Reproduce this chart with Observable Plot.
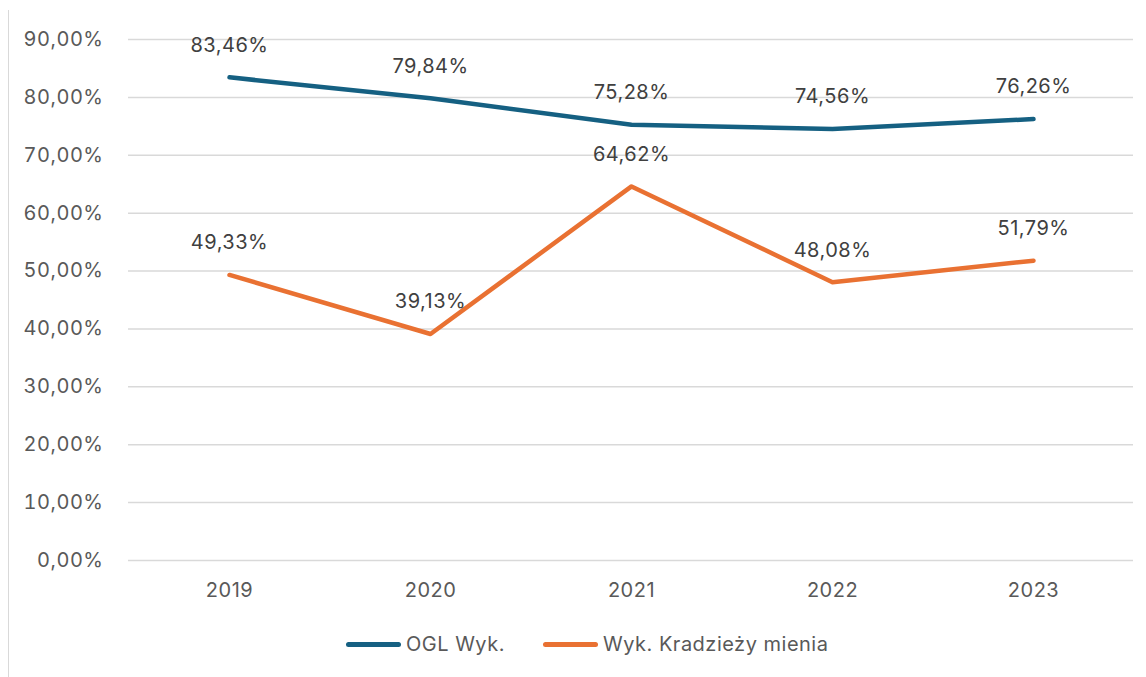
<!DOCTYPE html>
<html>
<head>
<meta charset="utf-8">
<script src="https://cdn.jsdelivr.net/npm/d3@7"></script>
<script src="https://cdn.jsdelivr.net/npm/@observablehq/plot@0.6"></script>
<style>
  html, body { margin: 0; padding: 0; background: #fff; }
  body { width: 1146px; height: 677px; position: relative; overflow: hidden; font-family: Inter, "Open Sans", sans-serif; }
  #frame { position: absolute; left: 8px; top: 10px; width: 1px; height: 667px; background: #d9d9d9; }
  #chart { position: absolute; left: 0; top: 0; }
  #chart text { letter-spacing: 0.5px; }
  #legend { position: absolute; top: 630px; left: 0; width: 1146px; height: 28px; }
  .item { position: absolute; top: 0; display: flex; align-items: center; height: 28px; font-size: 20px; color: #595959; letter-spacing: 0.5px; }
  .sw { width: 55px; height: 5px; border-radius: 3px; margin-right: 5px; }
</style>
</head>
<body>
<div id="frame"></div>
<div id="chart"></div>
<div id="legend"></div>
<script>
const years = ["2019", "2020", "2021", "2022", "2023"];
const seriesNames = ["OGL Wyk.", "Wyk. Kradzieży mienia"];
const seriesColors = ["#156082", "#E97132"];
const oglValues = [83.46, 79.84, 75.28, 74.56, 76.26];
const kradziezValues = [49.33, 39.13, 64.62, 48.08, 51.79];
const yTicks = [0, 10, 20, 30, 40, 50, 60, 70, 80, 90];

const fmt = v => v.toFixed(2).replace(".", ",") + "%";

const data = [];
years.forEach((y, i) => {
  data.push({year: y, value: oglValues[i], series: seriesNames[0]});
  data.push({year: y, value: kradziezValues[i], series: seriesNames[1]});
});

const chart = Plot.plot({
  width: 1146,
  height: 615,
  marginLeft: 128,
  marginRight: 13,
  marginTop: 39,
  marginBottom: 55,
  style: {fontFamily: 'Inter, "Open Sans", sans-serif', fontSize: "20px", color: "#595959", background: "transparent"},
  x: {type: "point", domain: years, padding: 0.5, label: null, tickSize: 0, tickPadding: 22},
  y: {domain: [0, 90], ticks: yTicks, tickFormat: fmt, label: null, tickSize: 0, tickPadding: 25},
  color: {domain: seriesNames, range: seriesColors},
  marks: [
    Plot.ruleY(yTicks, {stroke: "#d9d9d9", strokeWidth: 1.5, strokeOpacity: 1}),
    Plot.line(data, {x: "year", y: "value", z: "series", stroke: "series", strokeWidth: 4.5, strokeLinecap: "round", strokeLinejoin: "round"}),
    Plot.text(data, {x: "year", y: "value", text: d => fmt(d.value), dy: -32, fill: "#404040", fontSize: 20})
  ]
});
document.getElementById("chart").appendChild(chart);

const legend = document.getElementById("legend");
const positions = [346, 543];
seriesNames.forEach((name, i) => {
  const item = document.createElement("div");
  item.className = "item";
  item.style.left = positions[i] + "px";
  const sw = document.createElement("div");
  sw.className = "sw";
  sw.style.background = seriesColors[i];
  const label = document.createElement("span");
  label.textContent = name;
  item.appendChild(sw);
  item.appendChild(label);
  legend.appendChild(item);
});
</script>
</body>
</html>
